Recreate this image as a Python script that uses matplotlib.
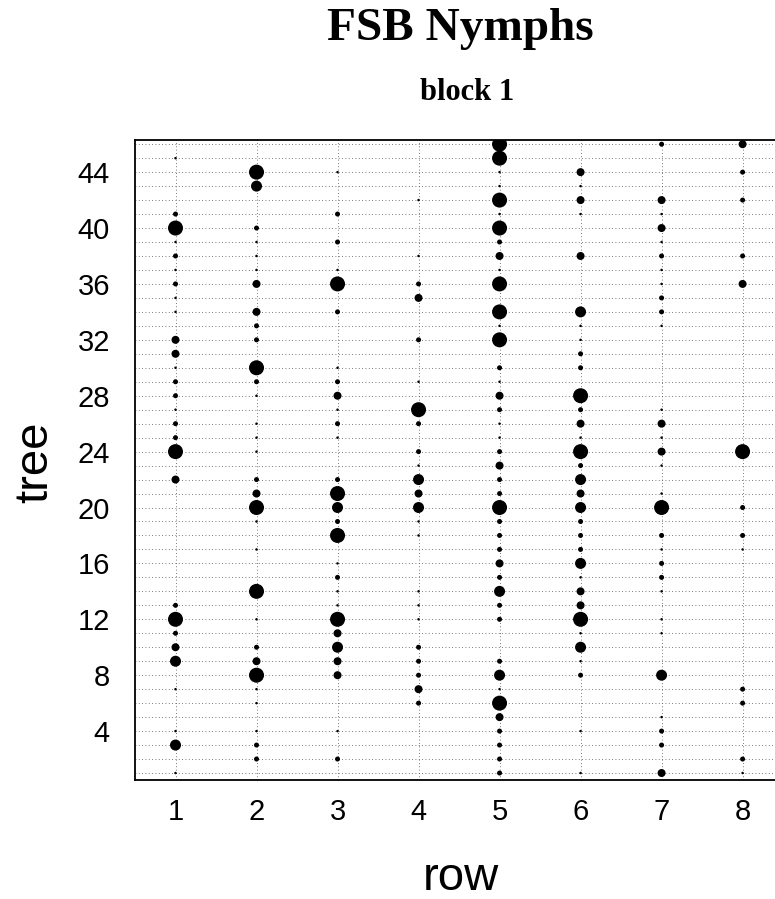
import numpy as np
import matplotlib
matplotlib.use("Agg")
import matplotlib.pyplot as plt

# nymph counts per tree, one dict per orchard row (block 1)
row1 = {45: 1, 41: 2, 40: 5, 39: 1, 38: 2, 37: 1, 36: 2, 35: 1, 34: 1, 32: 3, 31: 3,
        30: 1, 29: 2, 28: 2, 27: 1, 26: 2, 25: 2, 24: 5, 22: 3, 13: 2, 12: 5, 11: 2,
        10: 3, 9: 4, 7: 1, 4: 1, 3: 4, 1: 1}
row2 = {44: 5, 43: 4, 40: 2, 39: 1, 38: 1, 37: 1, 36: 3, 34: 3, 33: 2, 32: 2, 30: 5,
        29: 2, 28: 1, 26: 1, 25: 1, 24: 1, 22: 2, 21: 3, 20: 5, 19: 1, 17: 1, 14: 5,
        12: 1, 10: 2, 9: 3, 8: 5, 7: 1, 6: 1, 4: 1, 3: 2, 2: 2}
row3 = {44: 1, 41: 2, 39: 2, 37: 1, 36: 5, 34: 2, 30: 1, 29: 2, 28: 3, 27: 1, 26: 2,
        25: 1, 22: 2, 21: 5, 20: 4, 19: 2, 18: 5, 16: 1, 15: 2, 14: 1, 13: 1, 12: 5,
        11: 3, 10: 4, 9: 3, 8: 3, 4: 1, 2: 2}
row4 = {42: 1, 38: 1, 36: 2, 35: 3, 32: 2, 29: 1, 27: 5, 26: 2, 24: 2, 23: 1, 22: 4,
        21: 3, 20: 4, 19: 1, 18: 1, 14: 1, 13: 1, 12: 1, 10: 2, 9: 2, 8: 2, 7: 3, 6: 2}
row5 = {46: 5, 45: 5, 44: 1, 43: 1, 42: 5, 41: 1, 40: 5, 39: 2, 38: 3, 37: 1, 36: 5,
        34: 5, 33: 1, 32: 5, 30: 2, 29: 1, 28: 3, 27: 2, 26: 1, 25: 1, 24: 2, 23: 3,
        22: 2, 21: 2, 20: 5, 19: 2, 18: 2, 17: 2, 16: 3, 15: 2, 14: 4, 13: 2, 12: 2,
        9: 2, 8: 4, 7: 1, 6: 5, 5: 3, 4: 2, 3: 2, 2: 2, 1: 2}
row6 = {44: 3, 43: 1, 42: 3, 41: 1, 38: 3, 34: 4, 33: 1, 32: 1, 31: 2, 30: 2, 28: 5,
        27: 2, 26: 3, 25: 1, 24: 5, 23: 2, 22: 4, 21: 3, 20: 4, 19: 2, 18: 2, 17: 2,
        16: 4, 15: 1, 14: 3, 13: 3, 12: 5, 11: 1, 10: 4, 9: 1, 8: 2, 4: 1, 1: 1}
row7 = {46: 2, 42: 3, 41: 1, 40: 3, 39: 1, 38: 2, 37: 1, 36: 1, 35: 2, 34: 2, 33: 1,
        27: 1, 26: 3, 25: 1, 24: 3, 23: 1, 21: 1, 20: 5, 18: 2, 17: 1, 16: 2, 15: 2,
        14: 1, 12: 1, 11: 1, 8: 4, 5: 1, 4: 2, 3: 2, 1: 3}
row8 = {46: 3, 44: 2, 42: 2, 38: 2, 36: 3, 24: 5, 20: 2, 18: 2, 17: 1, 7: 2, 6: 2,
        2: 2, 1: 1}

rows = [row1, row2, row3, row4, row5, row6, row7, row8]
row_labels = ["1", "2", "3", "4", "5", "6", "7", "8"]
tree_ticks = [4, 8, 12, 16, 20, 24, 28, 32, 36, 40, 44]

# dot diameter in pixels for each count
dot_px = {1: 2.5, 2: 5, 3: 8, 4: 11, 5: 15}

DPI = 100
fig = plt.figure(figsize=(7.75, 8.99), dpi=DPI)
ax = fig.add_axes([135 / 775, 119 / 899, 640 / 775, 640 / 899])

xs, ys, ss = [], [], []
for r, counts in enumerate(rows, start=1):
    for tree, n in counts.items():
        xs.append(r)
        ys.append(tree)
        ss.append((dot_px[n] * 72 / DPI) ** 2)
ax.scatter(xs, ys, s=ss, c="black", linewidths=0, zorder=3)

ax.set_xlim(0.5, 8.4)
ax.set_ylim(0.5, 46.3)

# dotted grid at every tree and row
ax.set_xticks(range(1, 9))
ax.set_xticklabels(row_labels)
ax.set_yticks(tree_ticks)
ax.set_yticks(np.arange(1, 47), minor=True)
ax.grid(True, which="both", color="0.3", linestyle=(0, (1, 3)), linewidth=0.6, zorder=1)

for side in ["left", "bottom", "top"]:
    ax.spines[side].set_linewidth(1.3)
ax.spines["right"].set_visible(False)

ax.tick_params(axis="both", which="both", length=0)
ax.tick_params(axis="y", pad=18)
ax.tick_params(axis="x", pad=13)
for lab in ax.get_xticklabels() + ax.get_yticklabels():
    lab.set_fontfamily("Liberation Sans")
    lab.set_fontsize(21)

fig.text(460 / 775, 1 - 40 / 899, "FSB Nymphs", family="Liberation Serif",
         weight="bold", fontsize=34, ha="center", va="baseline")
fig.text(467 / 775, 1 - 100 / 899, "block 1", family="Liberation Serif",
         weight="bold", fontsize=22, ha="center", va="baseline")
fig.text(35 / 775, 1 - 462 / 899, "tree", family="Liberation Sans", fontsize=34,
         rotation=90, ha="center", va="center")
fig.text(461 / 775, 1 - 890 / 899, "row", family="Liberation Sans", fontsize=34,
         ha="center", va="baseline")

fig.savefig("out.png", dpi=DPI)
